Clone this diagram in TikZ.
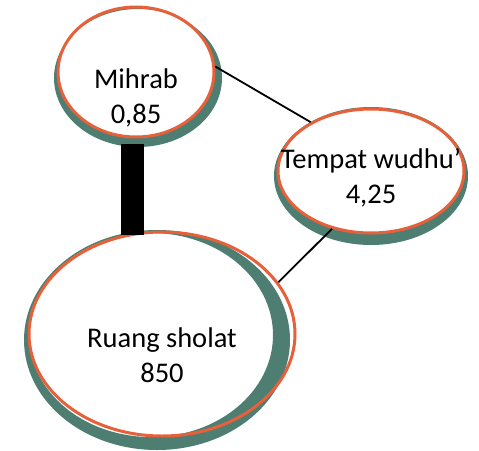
\documentclass[tikz,border=0pt]{standalone}
\usepackage{fontspec}
\setmainfont{Carlito}
\usetikzlibrary{shapes.geometric, calc}
\definecolor{bubbleline}{RGB}{230,96,58}
\definecolor{bubbleshade}{RGB}{78,126,114}

\begin{document}
\begin{tikzpicture}[x=1pt,y=-1pt,
  bubble/.style={ellipse,draw=bubbleline,line width=3pt,inner sep=0pt},
  txt/.style={align=center,inner sep=0pt,font=\fontsize{28.5}{35}\selectfont},
  link/.style={draw=black,line width=1.8pt},
  heavy/.style={draw=black,line width=23pt}
]
\useasboundingbox (0,0) rectangle (479,450);
\fill[bubbleshade,even odd rule] (138,78) ellipse (84pt and 69pt) (136,72) ellipse (78pt and 65pt);
\fill[bubbleshade,even odd rule] (371,176) ellipse (97pt and 69pt) (371,171) ellipse (93pt and 62pt);
\fill[bubbleshade,even odd rule] (157,340) ellipse (133pt and 110pt) (151,335) ellipse (122pt and 102pt);
\node[bubble,minimum width=156pt,minimum height=130pt] (mihrab) at (136,72) {};
\node[bubble,minimum width=186pt,minimum height=124pt] (wudhu) at (371,171) {};
\node[bubble,minimum width=266pt,minimum height=204pt] (ruang) at (162,334) {};
\node[txt] (mihrabtxt) at ([yshift=-25.5pt]mihrab.center) {Mihrab\\0,85};
\node[txt] (wudhutxt) at ([yshift=-6.5pt]wudhu.center) {Tempat wudhu’\\4,25};
\node[txt] (ruangtxt) at ([yshift=-21.5pt]ruang.center) {Ruang sholat\\850};
\draw[link] (mihrab.4) -- (wudhu.141);
\draw[link] (wudhu.236) -- (ruang.24);
\draw[heavy,shorten <=6pt,shorten >=-4pt] (mihrab.267) -- (mihrab.267 |- ruang.north);
\end{tikzpicture}
\end{document}
